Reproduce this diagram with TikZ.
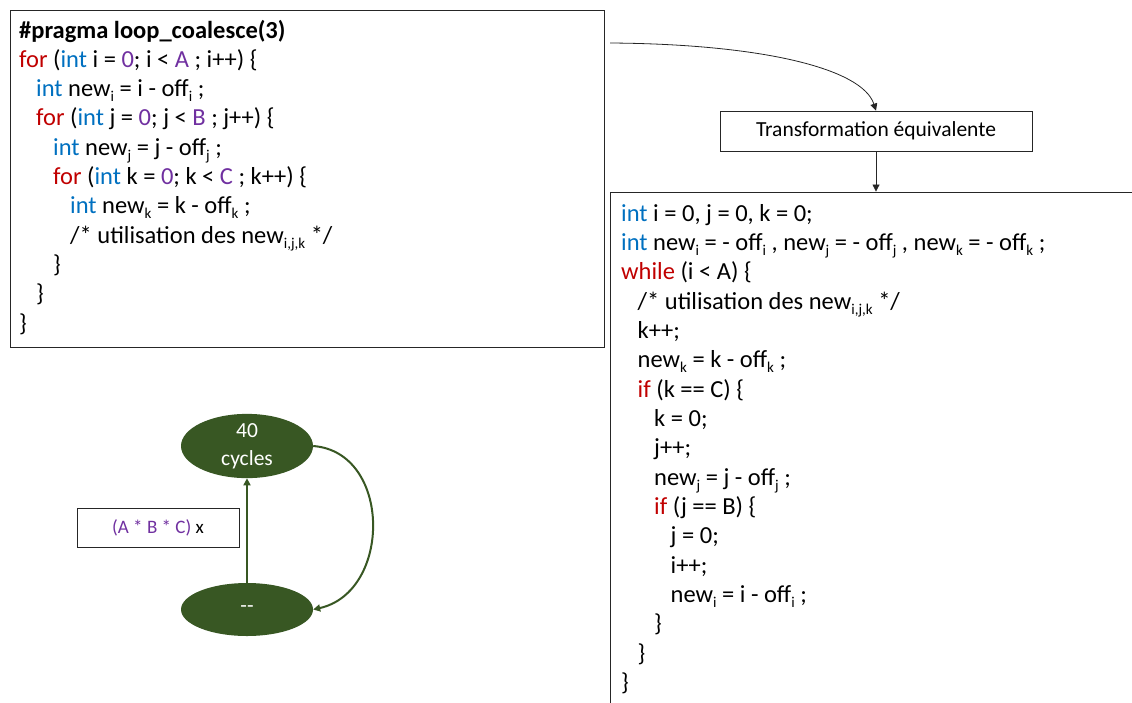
\documentclass[tikz,border=0pt]{standalone}
\usepackage{fontspec}
\setmainfont{Carlito}
\usetikzlibrary{arrows.meta,shapes.geometric}
\definecolor{kwred}{RGB}{192,0,0}
\definecolor{tyblue}{RGB}{0,112,192}
\definecolor{cstpurple}{RGB}{112,48,160}
\definecolor{leafgreen}{RGB}{56,87,35}
\newcommand\kw[1]{\textcolor{kwred}{#1}}
\newcommand\ty[1]{\textcolor{tyblue}{#1}}
\newcommand\cst[1]{\textcolor{cstpurple}{#1}}
\newcommand\idx[1]{\raisebox{-5pt}{\fontsize{15}{15}\selectfont #1}}
\begin{document}
\begin{tikzpicture}[x=1pt,y=-1pt,
  codeline/.style={anchor=base west, inner sep=0pt, font=\fontsize{24.5}{28}\selectfont},
  framebox/.style={draw=black!85, line width=0.9pt, rectangle, inner sep=0pt},
  thinarrow/.style={draw=black!85, line width=0.8pt, -{Triangle[length=7pt,width=7pt]}},
  greenarrow/.style={draw=leafgreen, line width=2pt, -{Triangle[length=7pt,width=7pt]}},
  leafnode/.style={ellipse, fill=leafgreen, minimum width=132pt, minimum height=53pt,
    text=white, font=\fontsize{21.5}{28}\selectfont, align=center, inner sep=0pt}]
\useasboundingbox (0,0) rectangle (1132,702);
\clip (0,0) rectangle (1132,702);

% source loop nest
\node[framebox, minimum width=594pt, minimum height=337pt] (lbox) at (307,178.5) {};
\node[codeline] (L1) at (19,38) {\textbf{\#pragma loop\_coalesce(3)}};
\node[codeline] (L2) at (19,{38+1*29.3}) {\kw{for} (\ty{int} i = \cst{0}; i < \cst{A} ; i++) \{};
\node[codeline] (L3) at (36,{38+2*29.3}) {\ty{int} new\idx{i} = i - off\idx{i} ;};
\node[codeline] (L4) at (36,{38+3*29.3}) {\kw{for} (\ty{int} j = \cst{0}; j < \cst{B} ; j++) \{};
\node[codeline] (L5) at (53,{38+4*29.3}) {\ty{int} new\idx{j} = j - off\idx{j} ;};
\node[codeline] (L6) at (53,{38+5*29.3}) {\kw{for} (\ty{int} k = \cst{0}; k < \cst{C} ; k++) \{};
\node[codeline] (L7) at (70,{38+6*29.3}) {\ty{int} new\idx{k} = k - off\idx{k} ;};
\node[codeline] (L8) at (70,{38+7*29.3}) {/* utilisation des new\idx{i,j,k} */};
\node[codeline] (L9) at (53,{38+8*29.3}) {\}};
\node[codeline] (L10) at (36,{38+9*29.3}) {\}};
\node[codeline] (L11) at (19,{38+10*29.3}) {\}};

% transformation step
\node[framebox, minimum width=312pt, minimum height=40pt, font=\fontsize{21.5}{24}\selectfont] (trans) at (876,131) {Transformation équivalente};
\coordinate (src) at (610,43);
\draw[thinarrow] (src) .. controls (760,44) and (862,68) .. (trans.north);

% coalesced loop
\node[framebox, minimum width=530pt, minimum height=518pt] (rbox) at (875,451) {};
\draw[thinarrow] (trans.south) -- (trans.south |- rbox.north);
\node[codeline] (R1) at (621,221) {\ty{int} i = 0, j = 0, k = 0;};
\node[codeline] (R2) at (621,{221+1*29.35}) {\ty{int} new\idx{i} = - off\idx{i} , new\idx{j} = - off\idx{j} , new\idx{k} = - off\idx{k} ;};
\node[codeline] (R3) at (621,{221+2*29.35}) {\kw{while} (i < A) \{};
\node[codeline] (R4) at (637.5,{221+3*29.35}) {/* utilisation des new\idx{i,j,k} */};
\node[codeline] (R5) at (637.5,{221+4*29.35}) {k++;};
\node[codeline] (R6) at (637.5,{221+5*29.35}) {new\idx{k} = k - off\idx{k} ;};
\node[codeline] (R7) at (637.5,{221+6*29.35}) {\kw{if} (k == C) \{};
\node[codeline] (R8) at (654,{221+7*29.35}) {k = 0;};
\node[codeline] (R9) at (654,{221+8*29.35}) {j++;};
\node[codeline] (R10) at (654,{221+9*29.35}) {new\idx{j} = j - off\idx{j} ;};
\node[codeline] (R11) at (654,{221+10*29.35}) {\kw{if} (j == B) \{};
\node[codeline] (R12) at (670.5,{221+11*29.35}) {j = 0;};
\node[codeline] (R13) at (670.5,{221+12*29.35}) {i++;};
\node[codeline] (R14) at (670.5,{221+13*29.35}) {new\idx{i} = i - off\idx{i} ;};
\node[codeline] (R15) at (654,{221+14*29.35}) {\}};
\node[codeline] (R16) at (637.5,{221+15*29.35}) {\}};
\node[codeline] (R17) at (621,{221+16*29.35}) {\}};

% cost graph
\node[leafnode] (cyc) at (247,446) {40\\cycles};
\node[leafnode] (rest) at (247,609.5) {-{}-};
\node[framebox, minimum width=162pt, minimum height=39pt, font=\fontsize{19}{22}\selectfont] (cnt) at (158,527.5) {\cst{(A * B * C)} x};
\draw[greenarrow] (rest.north) -- (cyc.south);
\draw[greenarrow] (cyc.east) .. controls (392,452) and (392,592) .. (rest.east);
\end{tikzpicture}
\end{document}
